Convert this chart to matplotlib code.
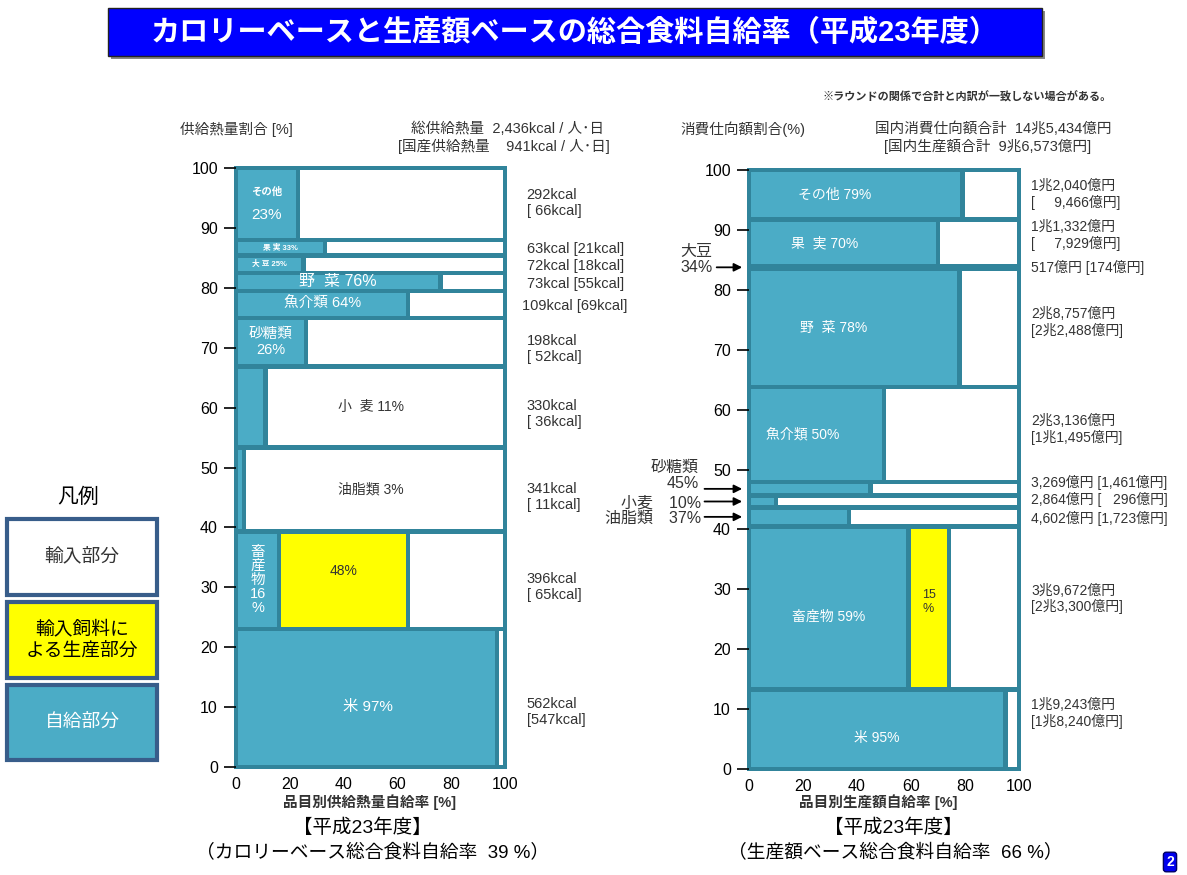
import matplotlib
matplotlib.use("Agg")
import matplotlib.pyplot as plt
from matplotlib.patches import Rectangle
import numpy as np

plt.rcParams['font.family'] = ['Liberation Sans', 'Noto Sans CJK JP', 'DejaVu Sans']

# ---- データ（下から順） ----
cats = ['米', '畜産物', '油脂類', '小麦', '砂糖類', '魚介類', '野菜', '大豆', '果実', 'その他']

# カロリーベース
kcal_total = [562, 396, 341, 330, 198, 109, 73, 72, 63, 292]
kcal_dom = [547, 65, 11, 36, 52, 69, 55, 18, 21, 66]
kcal_self = [97, 16, 3, 11, 26, 64, 76, 25, 33, 23]
kcal_feed = [0, 48, 0, 0, 0, 0, 0, 0, 0, 0]
kcal_labels = ['米 97%', '畜\n産\n物\n16\n%', '油脂類 3%', '小  麦 11%', '砂糖類\n26%',
               '魚介類 64%', '野  菜 76%', '大 豆 25%', '果 実 33%', 'その他\n23%']

# 生産額ベース（億円）
yen_total = [19243, 39672, 4602, 2864, 3269, 23136, 28757, 517, 11332, 12040]
yen_dom = [18240, 23300, 1723, 296, 1461, 11495, 22488, 174, 7929, 9466]
yen_self = [95, 59, 37, 10, 45, 50, 78, 34, 70, 79]
yen_feed = [0, 15, 0, 0, 0, 0, 0, 0, 0, 0]
yen_labels = ['米 95%', '畜産物 59%', '', '', '', '魚介類 50%', '野  菜 78%', '', '果  実 70%', 'その他 79%']

kcal_sum, kcal_dom_sum = 2436, 941
yen_sum, yen_dom_sum = 145434, 96573
kcal_rate, yen_rate = 39, 66

BLUE = '#4bacc6'
DARK = '#31849b'
YELLOW = '#ffff00'
GRAY = '#333333'

W, H = 1187, 875
fig = plt.figure(figsize=(W / 100, H / 100), dpi=100)


def fx(px):
    return px / W


def fy(py):
    return 1 - py / H


def oku(v):
    if v >= 10000:
        return f"{v // 10000}兆{v % 10000:,}億円"
    return f"{v:,}億円"


def draw_mosaic(ax, totals, selfs, feeds):
    heights = np.array(totals) / sum(totals) * 100
    bottoms = np.concatenate([[0], np.cumsum(heights)[:-1]])
    bb = ax.get_position()
    gx = 4.5 / (bb.width * W / 100)
    gy = 4.5 / (bb.height * H / 100)
    ax.add_patch(Rectangle((-gx / 2, -gy / 2), 100 + gx, 100 + gy, facecolor=DARK,
                           edgecolor='none', clip_on=False, zorder=1))
    for i in range(len(totals)):
        y0, h = bottoms[i], heights[i]
        edges = [0, selfs[i]]
        cols = [BLUE]
        if feeds[i] > 0:
            edges.append(selfs[i] + feeds[i])
            cols.append(YELLOW)
        edges.append(100)
        cols.append('white')
        for a, b, c in zip(edges[:-1], edges[1:], cols):
            if h - gy <= 0 or b - a - gx <= 0:
                continue
            ax.add_patch(Rectangle((a + gx / 2, y0 + gy / 2), b - a - gx, h - gy,
                                   facecolor=c, edgecolor='none', clip_on=False, zorder=2))
    return bottoms, heights


def style_axis(ax):
    ax.set_xlim(0, 100)
    ax.set_ylim(0, 100)
    for s in ax.spines.values():
        s.set_visible(False)
    ax.set_yticks(np.arange(0, 101, 10))
    ax.set_xticks(np.arange(0, 101, 20))
    ax.tick_params(axis='y', length=9, width=1.2, pad=4, labelsize=11.5)
    ax.tick_params(axis='x', length=0, pad=7, labelsize=11.5)


# ---- 左：カロリーベース ----
axL = fig.add_axes([fx(236), fy(767), fx(505) - fx(236), fy(168) - fy(767)])
style_axis(axL)
bL, hL = draw_mosaic(axL, kcal_total, kcal_self, kcal_feed)
kcal_label_shift = {'米': -2.4, 'その他': 0.2}
for i, lab in enumerate(kcal_labels):
    yc = bL[i] + hL[i] / 2
    if cats[i] in ('油脂類', '小麦'):
        axL.text(50, yc, lab, ha='center', va='center', color=GRAY, fontsize=10, zorder=3)
    elif cats[i] in ('大豆', '果実'):
        axL.text(kcal_self[i] / 2, yc, lab, ha='center', va='center', color='white',
                 fontsize=5.5, fontweight='bold', zorder=3)
    elif cats[i] == '畜産物':
        axL.text(kcal_self[i] / 2, yc, lab, ha='center', va='center', color='white',
                 fontsize=10.5, linespacing=1.0, zorder=3)
        axL.text(kcal_self[i] + kcal_feed[i] / 2, yc + 1.5, f"{kcal_feed[i]}%", ha='center',
                 va='center', color=GRAY, fontsize=10, zorder=3)
    elif cats[i] == 'その他':
        axL.text(kcal_self[i] / 2, yc + 2, 'その他', ha='center', va='center', color='white',
                 fontsize=7.5, fontweight='bold', zorder=3)
        axL.text(kcal_self[i] / 2, yc - 1.8, f"{kcal_self[i]}%", ha='center', va='center',
                 color='white', fontsize=11, zorder=3)
    elif cats[i] == '米':
        axL.text(49, yc - 1.5, lab, ha='center', va='center', color='white', fontsize=11, zorder=3)
    else:
        axL.text(kcal_self[i] / 2, yc, lab, ha='center', va='center', color='white',
                 fontsize=11.5 if cats[i] == '野菜' else 10.5, linespacing=1.15, zorder=3)

    # 右側の数値
    if hL[i] > 6:
        txt = f"{kcal_total[i]}kcal\n[{kcal_dom[i]:>3}kcal]"
        axL.text(108, yc + kcal_label_shift.get(cats[i], -1.2), txt, ha='left', va='center',
                 fontsize=10.5, color=GRAY, linespacing=1.15, clip_on=False)
    else:
        axL.text(106.5 if kcal_total[i] >= 100 else 108, yc - 0.3,
                 f"{kcal_total[i]}kcal [{kcal_dom[i]}kcal]", ha='left', va='center',
                 fontsize=10.5, color=GRAY, clip_on=False)

# ---- 右：生産額ベース ----
axR = fig.add_axes([fx(749), fy(769), fx(1019) - fx(749), fy(170) - fy(769)])
style_axis(axR)
bR, hR = draw_mosaic(axR, yen_total, yen_self, yen_feed)
# 数値ラベルの縦位置の調整（行中心からのずれ）
yen_label_shift = {'米': 2.7, '畜産物': 1.5, '油脂類': -0.2, '小麦': 0.3, '砂糖類': 1.1,
                   '魚介類': 0.8, '野菜': 0.9, '大豆': 0, '果実': 1.2, 'その他': 0}
for i, lab in enumerate(yen_labels):
    yc = bR[i] + hR[i] / 2
    if lab:
        xc = yen_self[i] / 2 if cats[i] in ('米', '畜産物') else yen_self[i] * 0.4
        axR.text(xc, yc - (1.5 if cats[i] in ('米', '畜産物') else 0), lab, ha='center',
                 va='center', color='white', fontsize=10, zorder=3)
    if cats[i] == '畜産物':
        axR.text(yen_self[i] + yen_feed[i] / 2, yc + 1, f"{yen_feed[i]}\n%", ha='center',
                 va='center', color=GRAY, fontsize=9, zorder=3)

    ty = yc + yen_label_shift[cats[i]]
    if hR[i] > 6:
        dom = oku(yen_dom[i])
        if yen_dom[i] < 10000:
            dom = '     ' + dom
        txt = f"{oku(yen_total[i])}\n[{dom}]"
        axR.text(104.5, ty, txt, ha='left', va='center', fontsize=10, color=GRAY,
                 linespacing=1.15, clip_on=False)
    else:
        dom = oku(yen_dom[i])
        if yen_dom[i] < 1000 and cats[i] != '大豆':
            dom = '   ' + dom
        axR.text(104.5, ty, f"{oku(yen_total[i])} [{dom}]", ha='left', va='center',
                 fontsize=10, color=GRAY, clip_on=False)

# 左側の矢印ラベル
arrow_items = {'大豆': '大豆\n{}%', '砂糖類': '砂糖類\n{}%', '小麦': '小麦　{}%', '油脂類': '油脂類　{}%'}
for name, fmt in arrow_items.items():
    i = cats.index(name)
    yc = bR[i] + hR[i] / 2
    x_start = -13 if name == '大豆' else -17.5
    axR.annotate('', xy=(-1.5, yc), xytext=(x_start, yc), xycoords='data',
                 arrowprops=dict(arrowstyle='-|>', color='black', lw=1.3, mutation_scale=12),
                 annotation_clip=False)
    if '\n' in fmt:
        off = 1.3 if name == '大豆' else 0.3
        axR.text(x_start - 0.5 if name == '大豆' else -18.5, yc - off, fmt.format(yen_self[i]),
                 ha='right', va='bottom', fontsize=11.5, color=GRAY, linespacing=1.1,
                 clip_on=False, multialignment='right')
    else:
        axR.text(-17.8, yc - 0.2, fmt.format(yen_self[i]), ha='right', va='center',
                 fontsize=11.5, color=GRAY, clip_on=False)

# ---- タイトル ----
fig.patches.append(Rectangle((fx(111), fy(59)), fx(1045) - fx(111), fy(11) - fy(59),
                             transform=fig.transFigure, facecolor='#888888', edgecolor='none'))
fig.patches.append(Rectangle((fx(108), fy(56)), fx(1042) - fx(108), fy(8) - fy(56),
                             transform=fig.transFigure, facecolor='#0000ff', edgecolor='#222222',
                             lw=1))
fig.text(fx(575), fy(33), 'カロリーベースと生産額ベースの総合食料自給率（平成23年度）', ha='center',
         va='center', color='white', fontsize=21, fontweight='bold')

fig.text(fx(823), fy(97), '※ラウンドの関係で合計と内訳が一致しない場合がある。', ha='left',
         va='center', fontsize=8, fontweight='bold', color=GRAY)

# ---- 見出し ----
fig.text(fx(180), fy(129), '供給熱量割合 [%]', ha='left', va='center', fontsize=10.5, color=GRAY)
fig.text(fx(604), fy(129), f'総供給熱量  {kcal_sum:,}kcal / 人･日', ha='right', va='center',
         fontsize=10.5, color=GRAY)
fig.text(fx(610), fy(146), f'[国産供給熱量    {kcal_dom_sum}kcal / 人･日]', ha='right',
         va='center', fontsize=10.5, color=GRAY)
fig.text(fx(680), fy(129), '消費仕向額割合(%)', ha='left', va='center', fontsize=10.5, color=GRAY)
fig.text(fx(875), fy(129), f'国内消費仕向額合計  {oku(yen_sum)}', ha='left', va='center',
         fontsize=10.5, color=GRAY)
fig.text(fx(884), fy(146), f'[国内生産額合計  {oku(yen_dom_sum)}]', ha='left', va='center',
         fontsize=10.5, color=GRAY)

# ---- 下部テキスト ----
fig.text(fx(370), fy(802), '品目別供給熱量自給率 [%]', ha='center', va='center', fontsize=10.5,
         fontweight='bold', color=GRAY)
fig.text(fx(362), fy(828), '【平成23年度】', ha='center', va='center', fontsize=14, color='black')
fig.text(fx(373), fy(853), f'（カロリーベース総合食料自給率  {kcal_rate} %）', ha='center',
         va='center', fontsize=13.5, color='black')
fig.text(fx(878), fy(802), '品目別生産額自給率 [%]', ha='center', va='center', fontsize=10.5,
         fontweight='bold', color=GRAY)
fig.text(fx(893), fy(828), '【平成23年度】', ha='center', va='center', fontsize=14, color='black')
fig.text(fx(895), fy(853), f'（生産額ベース総合食料自給率  {yen_rate} %）', ha='center',
         va='center', fontsize=13.5, color='black')

# ---- 凡例 ----
fig.text(fx(78), fy(497), '凡例', ha='center', va='center', fontsize=15, color='black')
legend_items = [('輸入部分', 'white', GRAY, 519, 595),
                ('輸入飼料に\nよる生産部分', YELLOW, 'black', 602, 678),
                ('自給部分', BLUE, 'white', 685, 760)]
for txt, fc, tc, top, bot in legend_items:
    fig.patches.append(Rectangle((fx(7), fy(bot)), fx(157) - fx(7), fy(top) - fy(bot),
                                 transform=fig.transFigure, facecolor=fc, edgecolor='#385d8a',
                                 lw=3))
    fig.text(fx(82), fy((top + bot) / 2), txt, ha='center', va='center', fontsize=13.5, color=tc,
             linespacing=1.25)

# ページ番号
fig.text(fx(1170), fy(862), '2', ha='center', va='center', fontsize=10, fontweight='bold',
         color='white', bbox=dict(boxstyle='round,pad=0.2', facecolor='#0000ee', edgecolor='#000066'))

fig.savefig('out.png', dpi=100)
